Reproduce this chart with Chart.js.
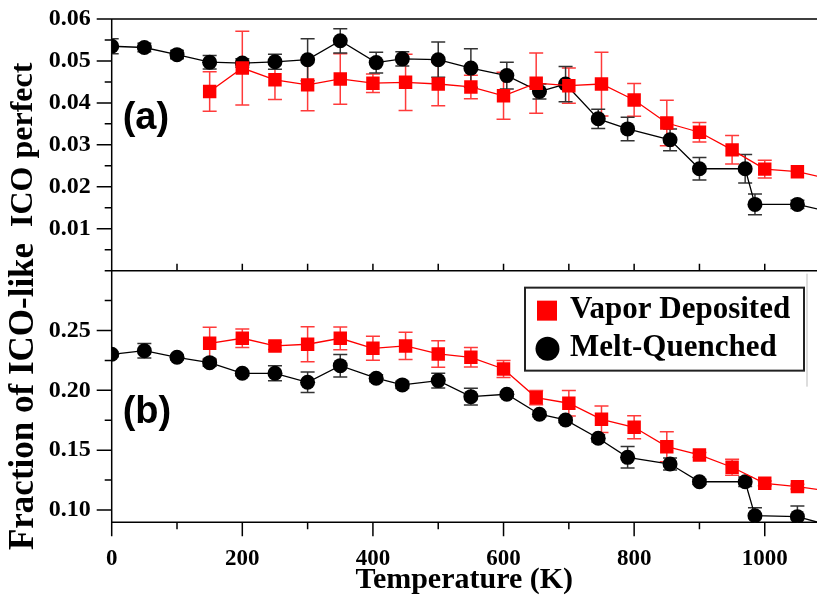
<!DOCTYPE html>
<html>
<head>
<meta charset="utf-8">
<script src="https://cdn.jsdelivr.net/npm/chart.js@4.4.0/dist/chart.umd.min.js"></script>
<style>
  html, body { margin: 0; padding: 0; background: #fff; }
  #wrap { width: 817px; height: 600px; }
</style>
</head>
<body>
<div id="wrap"><canvas id="chart" width="817" height="600"></canvas></div>
<script>
// Temperatures (K) of each run
const tempVapor = [150, 200, 250, 300, 350, 400, 450, 500, 550, 600, 650, 700, 750, 800, 850, 900, 950, 1000, 1050, 1100];
const tempMelt = [0, 50, 100, 150, 200, 250, 300, 350, 405, 445, 500, 550, 605, 655, 695, 745, 790, 855, 900, 970, 985, 1050, 1100];

// (a) ICO perfect
const icoVapor = [0.0427, 0.0483, 0.0455, 0.0443, 0.0457, 0.0447, 0.0449, 0.0445, 0.0438, 0.0417, 0.0447, 0.0441, 0.0445, 0.0407, 0.0352, 0.0330, 0.0288, 0.0242, 0.0236, 0.0218];
const icoVaporErr = [0.0047, 0.0088, 0.0047, 0.0062, 0.0060, 0.0022, 0.0067, 0.0052, 0.0028, 0.0056, 0.0072, 0.0042, 0.0076, 0.0039, 0.0054, 0.0023, 0.0034, 0.0021, 0, 0];
const icoMelt = [0.0535, 0.0532, 0.0515, 0.0497, 0.0495, 0.0498, 0.0503, 0.0548, 0.0496, 0.0505, 0.0503, 0.0483, 0.0465, 0.0427, 0.0445, 0.0362, 0.0338, 0.0312, 0.0243, 0.0243, 0.0158, 0.0158, 0.0140];
const icoMeltErr = [0.0018, 0.001, 0.001, 0.0016, 0.001, 0.0018, 0.0050, 0.0029, 0.0025, 0.0017, 0.0042, 0.0046, 0.0032, 0.0018, 0.0042, 0.0023, 0.0028, 0.0026, 0.0027, 0.0034, 0.0025, 0.001, 0];

// (b) Fraction of ICO-like
const likeVapor = [0.2393, 0.2435, 0.2371, 0.2385, 0.2435, 0.2351, 0.2371, 0.2304, 0.2276, 0.2178, 0.1939, 0.1892, 0.1758, 0.1691, 0.1529, 0.1460, 0.1357, 0.1223, 0.1195, 0.1157];
const likeVaporErr = [0.0135, 0.0077, 0.003, 0.0146, 0.0095, 0.0100, 0.0114, 0.0111, 0.0082, 0.0071, 0.006, 0.0106, 0.0110, 0.0096, 0.0125, 0.002, 0.0067, 0.002, 0.002, 0];
const likeMelt = [0.2301, 0.2331, 0.2276, 0.2231, 0.2142, 0.2142, 0.2067, 0.2206, 0.2101, 0.2045, 0.2081, 0.1947, 0.1967, 0.1800, 0.1752, 0.1599, 0.1440, 0.1384, 0.1236, 0.1236, 0.0952, 0.0944, 0.0870];
const likeMeltErr = [0.002, 0.0060, 0.002, 0.003, 0.002, 0.0063, 0.0086, 0.0094, 0.003, 0.003, 0.0062, 0.0070, 0.002, 0.002, 0.002, 0.003, 0.0090, 0.005, 0.002, 0.004, 0.0067, 0.0090, 0];

// Tick labels
const xTickLabels = [0, 200, 400, 600, 800, 1000];
const topTickLabels = ['0.01', '0.02', '0.03', '0.04', '0.05', '0.06'];
const botTickLabels = ['0.10', '0.15', '0.20', '0.25', '0.30'];

const seriesNames = ['Vapor Deposited', 'Melt-Quenched'];
const RED = '#ff0000';
const SERIF = '"Liberation Serif", "Times New Roman", serif';

function pts(xs, ys) {
    return xs.map((x, i) => ({ x: x, y: ys[i] }));
}

function pickLabel(list, value) {
    const hit = list.find(l => Math.abs(parseFloat(l) - value) < 1e-7);
    return hit === undefined ? '' : hit;
}

// error bars, axes frame, tick marks, panel letters and legend
const decorations = {
    id: 'decorations',
    beforeDatasetsDraw(chart) {
        const ctx = chart.ctx;
        const area = chart.chartArea;
        const x = chart.scales.x, yTop = chart.scales.yTop, yBot = chart.scales.yBot;
        ctx.save();
        ctx.strokeStyle = '#000';
        ctx.lineWidth = 1.5;
        ctx.beginPath();
        // frame lines
        ctx.moveTo(area.left, area.top); ctx.lineTo(area.right, area.top);
        ctx.moveTo(area.left, yTop.bottom); ctx.lineTo(area.right, yTop.bottom);
        ctx.moveTo(area.left, area.bottom); ctx.lineTo(area.right, area.bottom);
        ctx.moveTo(area.left, area.top); ctx.lineTo(area.left, area.bottom);
        // y ticks (outside)
        [yTop, yBot].forEach(s => {
            s.ticks.forEach(t => {
                const py = s.getPixelForValue(t.value);
                const len = t.label ? 15 : 7;
                ctx.moveTo(area.left - len, py); ctx.lineTo(area.left, py);
            });
        });
        // x ticks
        x.ticks.forEach(t => {
            const px = x.getPixelForValue(t.value);
            const len = t.label ? 14 : 7;
            ctx.moveTo(px, area.bottom); ctx.lineTo(px, area.bottom + len);
            if (t.value > 0) {
                ctx.moveTo(px, yTop.bottom); ctx.lineTo(px, yTop.bottom - 7);
            }
        });
        ctx.stroke();

        // error bars
        ctx.beginPath();
        ctx.rect(area.left, area.top, area.right - area.left, area.bottom - area.top);
        ctx.clip();
        chart.data.datasets.forEach((ds, i) => {
            const ys = chart.scales[ds.yAxisID];
            ctx.strokeStyle = ds.errColor;
            ctx.lineWidth = 1.5;
            ctx.beginPath();
            ds.data.forEach((p, j) => {
                const e = ds.errors[j];
                if (!e) return;
                const px = x.getPixelForValue(p.x);
                const hi = ys.getPixelForValue(p.y + e);
                const lo = ys.getPixelForValue(p.y - e);
                ctx.moveTo(px, hi); ctx.lineTo(px, lo);
                ctx.moveTo(px - 7, hi); ctx.lineTo(px + 7, hi);
                ctx.moveTo(px - 7, lo); ctx.lineTo(px + 7, lo);
            });
            ctx.stroke();
        });
        ctx.restore();
    },
    afterDraw(chart) {
        const ctx = chart.ctx;
        const area = chart.chartArea;
        const yTop = chart.scales.yTop, yBot = chart.scales.yBot;
        ctx.save();
        // panel letters
        ctx.fillStyle = '#000';
        ctx.font = 'bold 38px "Liberation Sans", Arial, sans-serif';
        ctx.textBaseline = 'alphabetic';
        ctx.fillText('(a)', area.left + 11, yTop.top + 110);
        ctx.fillText('(b)', area.left + 11, yBot.top + 152);

        // legend box
        const bx = area.right - 292, by = yBot.top + 17, bw = 279, bh = 83;
        ctx.fillStyle = '#fff';
        ctx.fillRect(bx, by, bw, bh);
        ctx.strokeStyle = '#222';
        ctx.lineWidth = 2;
        ctx.strokeRect(bx, by, bw, bh);
        ctx.strokeStyle = '#bbb';
        ctx.lineWidth = 1;
        ctx.beginPath();
        ctx.moveTo(area.right - 10, yBot.top + 3);
        ctx.lineTo(area.right - 10, yBot.top + 116);
        ctx.stroke();

        ctx.fillStyle = RED;
        ctx.fillRect(bx + 12, by + 13, 20, 20);
        ctx.fillStyle = '#000';
        ctx.beginPath();
        ctx.arc(bx + 22.5, by + 61, 12, 0, Math.PI * 2);
        ctx.fill();
        ctx.font = 'bold 31px ' + SERIF;
        ctx.fillText(seriesNames[0], bx + 45, by + 30);
        ctx.fillText(seriesNames[1], bx + 45, by + 68);
        ctx.restore();
    }
};

function series(label, xs, ys, errs, axis, color, style, radius, errColor) {
    return {
        label: label,
        data: pts(xs, ys),
        errors: errs,
        errColor: errColor,
        yAxisID: axis,
        borderColor: color,
        backgroundColor: color,
        borderWidth: 1.3,
        pointStyle: style,
        pointRadius: radius,
        pointBorderWidth: 0,
        pointBackgroundColor: color,
        tension: 0
    };
}

const tickFont = { family: SERIF, size: 24, weight: 'bold' };
// tick marks are drawn by the plugin; tickLength only sets the label offset
const hiddenGrid = { display: false, drawTicks: true, tickLength: 21 };

function fitY(s) {
    s.width = 111.7;
    s.paddingTop = 0;
    s.paddingBottom = 0;
}

new Chart(document.getElementById('chart'), {
    type: 'line',
    data: {
        datasets: [
            series(seriesNames[0], tempVapor, icoVapor, icoVaporErr, 'yTop', RED, 'rect', 9.5, '#ff3a3a'),
            series(seriesNames[1], tempMelt, icoMelt, icoMeltErr, 'yTop', '#000', 'circle', 7.5, '#333'),
            series(seriesNames[0], tempVapor, likeVapor, likeVaporErr, 'yBot', RED, 'rect', 9.5, '#ff3a3a'),
            series(seriesNames[1], tempMelt, likeMelt, likeMeltErr, 'yBot', '#000', 'circle', 7.5, '#333')
        ]
    },
    options: {
        responsive: false,
        animation: false,
        devicePixelRatio: 1,
        layout: { autoPadding: false, padding: { top: 19, left: 0, right: 0, bottom: 0 } },
        plugins: { legend: { display: false }, tooltip: { enabled: false } },
        scales: {
            x: {
                type: 'linear',
                min: 0,
                max: 1080,
                grid: { display: false, drawTicks: true, tickLength: 17 },
                border: { display: false },
                ticks: {
                    stepSize: 100,
                    includeBounds: false,
                    autoSkip: false,
                    maxRotation: 0,
                    padding: 6,
                    color: '#000',
                    font: { family: SERIF, size: 23, weight: 'bold' },
                    callback: v => xTickLabels.includes(v) ? String(v) : ''
                },
                title: {
                    display: true,
                    text: 'Temperature (K)',
                    color: '#000',
                    font: { family: SERIF, size: 30, weight: 'bold' },
                    padding: { top: 0, bottom: 2 }
                },
                afterFit: s => {
                    s.height = 77.7;
                    s.paddingLeft = 0;
                    s.paddingRight = 0;
                }
            },
            yBot: {
                type: 'linear',
                position: 'left',
                stack: 'panels',
                stackWeight: 1,
                min: 0.0897,
                max: 0.30,
                grid: hiddenGrid,
                border: { display: false },
                ticks: {
                    stepSize: 0.025,
                    includeBounds: false,
                    autoSkip: false,
                    padding: 0,
                    color: '#000',
                    font: tickFont,
                    callback: v => pickLabel(botTickLabels, v)
                },
                title: {
                    display: true,
                    text: 'Fraction of ICO-like',
                    color: '#000',
                    font: { family: SERIF, size: 35, weight: 'bold' },
                    padding: { top: 3, bottom: 0 }
                },
                afterFit: fitY
            },
            yTop: {
                type: 'linear',
                position: 'left',
                stack: 'panels',
                stackWeight: 1,
                min: 0,
                max: 0.06,
                grid: hiddenGrid,
                border: { display: false },
                ticks: {
                    stepSize: 0.005,
                    includeBounds: false,
                    autoSkip: false,
                    padding: 0,
                    color: '#000',
                    font: tickFont,
                    callback: v => pickLabel(topTickLabels, v)
                },
                title: {
                    display: true,
                    text: 'ICO perfect',
                    color: '#000',
                    font: { family: SERIF, size: 32, weight: 'bold' },
                    padding: { top: 5, bottom: 0 }
                },
                afterFit: fitY
            }
        }
    },
    plugins: [decorations]
});
</script>
</body>
</html>
